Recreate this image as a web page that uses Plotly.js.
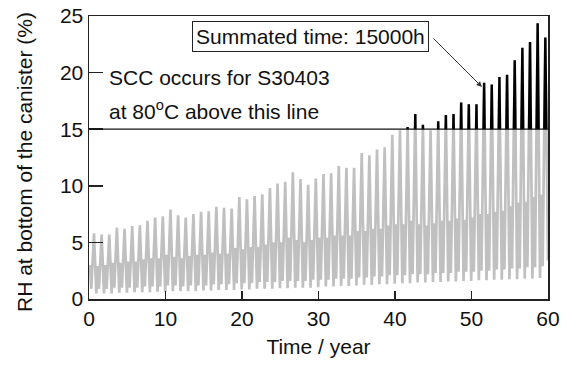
<!DOCTYPE html>
<html>
<head>
<meta charset="utf-8">
<script src="https://cdn.plot.ly/plotly-3.0.1.min.js"></script>
<style>html,body{margin:0;padding:0;background:#fff;}#chart{width:567px;height:369px;}</style>
</head>
<body>
<div id="chart"></div>
<script>
// Yearly cycle values (RH %, one entry per year 0..59)
const peakRH = [5.8,5.7,5.7,6.3,6.2,6.45,6.5,6.9,7.2,7.3,
  7.9,7.4,7.2,7.5,7.7,7.75,8.15,8.05,8.0,9.0,
  8.8,9.1,9.25,9.8,10.2,10.35,11.2,10.6,10.1,10.65,
  11.05,11.1,11.75,11.6,11.6,12.9,12.7,13.2,13.4,14.5,
  14.9,15.2,16.35,15.4,14.9,15.7,16.25,16.35,17.35,17.2,
  17.2,19.1,18.95,19.6,19.8,21.1,22.2,22.7,24.35,23.1];
const midRH = [3.0,2.9,3.0,3.2,3.2,3.3,3.3,3.5,3.6,3.6,
  3.9,3.7,3.6,3.8,3.9,3.9,4.1,4.0,4.0,4.5,
  4.4,4.6,4.6,4.8,5.0,5.0,5.4,5.2,5.0,5.2,
  5.4,5.4,5.6,5.6,5.6,6.0,6.0,6.2,6.2,6.5,
  6.6,6.6,6.9,6.6,6.5,6.7,6.9,6.9,7.1,7.0,
  7.2,7.5,7.5,7.7,7.8,8.2,8.5,8.6,9.0,9.2];
const preLowRH = [0.9,0.9,0.9,1.0,1.0,1.0,1.0,1.1,1.1,1.1,
  1.2,1.2,1.1,1.2,1.2,1.2,1.3,1.3,1.3,1.4,
  1.4,1.4,1.5,1.5,1.5,1.6,1.6,1.6,1.6,1.7,
  1.7,1.7,1.8,1.8,1.8,1.9,1.9,2.0,2.0,2.1,
  2.1,2.1,2.2,2.2,2.2,2.3,2.3,2.3,2.4,2.4,
  2.4,2.5,2.5,2.6,2.6,2.7,2.7,2.8,2.8,2.9];
const postLowRH = [0.5,0.5,0.5,0.55,0.55,0.6,0.6,0.6,0.65,0.65,
  0.7,0.7,0.7,0.7,0.75,0.75,0.8,0.8,0.8,0.85,
  0.85,0.9,0.9,0.9,0.95,0.95,1.0,1.0,1.0,1.05,
  1.1,1.1,1.15,1.15,1.2,1.25,1.25,1.3,1.3,1.35,
  1.4,1.4,1.45,1.45,1.5,1.5,1.55,1.55,1.6,1.6,
  1.65,1.65,1.7,1.7,1.75,1.75,1.8,1.8,1.85];
const endRH = 3.4;
const threshold = 15;
const xTicks = [0,10,20,30,40,50,60];
const yTicks = [0,5,10,15,20,25];

// phase of each feature within a year
const PH = {mid:0.12, preLow:0.3, peak:0.65, postLow:0.96};
const xs = [], ys = [];
for (let n = 0; n < peakRH.length; n++) {
  xs.push(n + PH.mid);    ys.push(midRH[n]);
  xs.push(n + PH.preLow); ys.push(preLowRH[n]);
  xs.push(n + PH.peak);   ys.push(peakRH[n]);
  if (n < postLowRH.length) { xs.push(n + PH.postLow); ys.push(postLowRH[n]); }
}
xs.push(60); ys.push(endRH);

const font = 'Liberation Sans, Arial, sans-serif';
const axCol = '#222';

const traces = [
  {x: xs, y: ys, type: 'scatter', mode: 'lines', xaxis: 'x', yaxis: 'y',
   line: {color: '#c0c0c0', width: 2.7}, hoverinfo: 'skip'},
  {x: xs, y: ys, type: 'scatter', mode: 'lines', xaxis: 'x', yaxis: 'y2',
   line: {color: '#000', width: 2.4}, hoverinfo: 'skip'}
];

const layout = {
  width: 567, height: 369,
  margin: {l: 89, r: 19, t: 16, b: 70},
  paper_bgcolor: '#fff', plot_bgcolor: 'rgba(0,0,0,0)',
  showlegend: false,
  font: {family: font, size: 21, color: '#111'},
  xaxis: {range: [0, 60], tickvals: xTicks, ticks: 'inside', ticklen: 8, tickwidth: 1.5,
    tickcolor: axCol, showline: true, mirror: true, linecolor: axCol, linewidth: 1.5,
    showgrid: false, zeroline: false, tickfont: {size: 21, family: font},
    title: {text: 'Time / year', font: {size: 21, family: font}, standoff: 10}},
  yaxis: {range: [0, 25], tickvals: yTicks, ticks: 'inside', ticklen: 14, tickwidth: 1.5,
    tickcolor: axCol, showline: true, mirror: true, linecolor: axCol, linewidth: 1.5,
    showgrid: false, zeroline: false, tickfont: {size: 21, family: font}},
  yaxis2: {domain: [threshold / 25, 1], range: [threshold, 25], anchor: 'x', visible: false,
    showgrid: false, zeroline: false},
  shapes: [{type: 'line', xref: 'x', yref: 'y', x0: 0, x1: 60, y0: threshold, y1: threshold,
    line: {color: '#111', width: 1.2}, layer: 'above'}],
  annotations: [
    {xref: 'paper', yref: 'paper', x: -0.1416, y: 0.484, xanchor: 'center', yanchor: 'middle',
     textangle: -90, text: 'RH at bottom of the canister (%)', showarrow: false,
     font: {size: 21, family: font, color: '#111'}},
    {xref: 'paper', yref: 'paper', x: 0.4815, y: 0.929, xanchor: 'center', yanchor: 'middle',
     text: 'Summated time: 15000h',
     showarrow: false, bordercolor: '#222', borderwidth: 1, borderpad: 3, bgcolor: '#fff',
     font: {size: 21, family: font, color: '#111'}},
    {xref: 'x', yref: 'y', x: 51.37, y: 18.73, text: '', showarrow: true, arrowhead: 2,
     arrowsize: 1.1, arrowwidth: 1, arrowcolor: '#333', ax: -50, ay: -50, standoff: 0},
    {xref: 'paper', yref: 'paper', x: 0.0386, y: 0.781, xanchor: 'left', yanchor: 'middle',
     text: 'SCC occurs for S30403', showarrow: false, font: {size: 21, family: font, color: '#111'}},
    {xref: 'paper', yref: 'paper', x: 0.0386, y: 0.668, xanchor: 'left', yanchor: 'middle',
     text: 'at 80<sup>o</sup>C above this line', showarrow: false, font: {size: 21, family: font, color: '#111'}}
  ]
};

Plotly.newPlot('chart', traces, layout, {staticPlot: true, displayModeBar: false});
</script>
</body>
</html>
